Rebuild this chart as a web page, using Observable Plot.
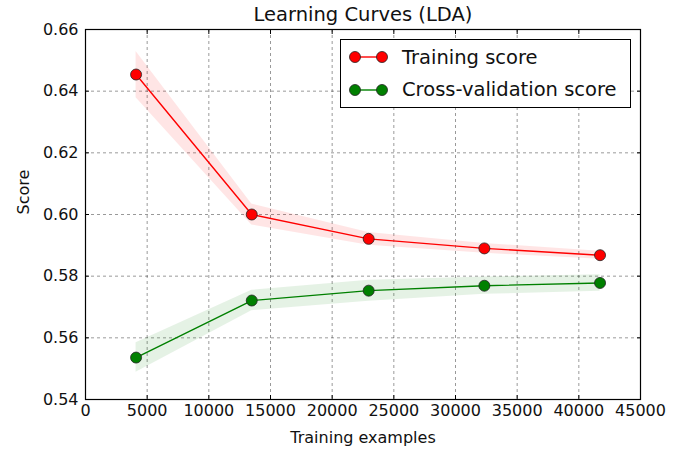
<!DOCTYPE html>
<html><head><meta charset="utf-8">
<script src="https://cdn.jsdelivr.net/npm/d3@7"></script>
<script src="https://cdn.jsdelivr.net/npm/@observablehq/plot@0.6"></script>
<style>
body{margin:0;background:#fff;}
#wrap{position:relative;width:692px;height:452px;font-family:"DejaVu Sans",sans-serif;}
#legend{position:absolute;left:340px;top:39px;width:289px;height:67px;border:1px solid #000;background:#fff;}
.entry{position:absolute;left:0;height:30px;display:flex;align-items:center;font-size:19.5px;color:#111;}
.entry svg{margin-left:8px;margin-right:13px;}
</style></head>
<body><div id="wrap"></div>
<script>
const trainSizes = [4100, 13480, 22960, 32340, 41720];
const trainMean = [0.6454, 0.6000, 0.5921, 0.5890, 0.5868];
const trainStd  = [0.0075, 0.0034, 0.0021, 0.0016, 0.0013];
const cvMean = [0.5536, 0.5721, 0.5753, 0.5769, 0.5778];
const cvStd  = [0.0048, 0.0033, 0.0034, 0.0028, 0.0027];
const xTicks = [0, 5000, 10000, 15000, 20000, 25000, 30000, 35000, 40000, 45000];
const yTicks = [0.54, 0.56, 0.58, 0.60, 0.62, 0.64, 0.66];
const seriesNames = ["Training score", "Cross-validation score"];
const seriesColors = ["#ff0000", "#008000"];

const train = trainSizes.map((x, i) => ({x, y: trainMean[i], lo: trainMean[i] - trainStd[i], hi: trainMean[i] + trainStd[i]}));
const cv = trainSizes.map((x, i) => ({x, y: cvMean[i], lo: cvMean[i] - cvStd[i], hi: cvMean[i] + cvStd[i]}));

const grid = {stroke: "#000", strokeOpacity: 0.4, strokeDasharray: "3,3", strokeWidth: 1};
const chart = Plot.plot({
  width: 692, height: 452,
  marginLeft: 85, marginRight: 52, marginTop: 29, marginBottom: 53,
  style: {background: "white", color: "#111", fontFamily: "DejaVu Sans", fontSize: "16px"},
  x: {domain: [0, 45000]},
  y: {domain: [0.54, 0.66]},
  marks: [
    Plot.gridX(xTicks, grid),
    Plot.gridY(yTicks, grid),
    Plot.areaY(train, {x: "x", y1: "lo", y2: "hi", fill: seriesColors[0], fillOpacity: 0.1}),
    Plot.areaY(cv, {x: "x", y1: "lo", y2: "hi", fill: seriesColors[1], fillOpacity: 0.1}),
    Plot.line(train, {x: "x", y: "y", stroke: seriesColors[0], strokeWidth: 1.4}),
    Plot.line(cv, {x: "x", y: "y", stroke: seriesColors[1], strokeWidth: 1.4}),
    Plot.dot(train, {x: "x", y: "y", r: 5.5, fill: seriesColors[0], stroke: "#222", strokeWidth: 0.8}),
    Plot.dot(cv, {x: "x", y: "y", r: 5.5, fill: seriesColors[1], stroke: "#222", strokeWidth: 0.8}),
    Plot.axisX({anchor: "bottom", ticks: xTicks, tickSize: -4, tickPadding: 9, tickFormat: d3.format("d"), label: null, stroke: "black", fill: "#111", fontSize: 16}),
    Plot.axisX({anchor: "top", ticks: xTicks, tickSize: -4, tickFormat: () => "", label: null, stroke: "black"}),
    Plot.axisY({anchor: "left", ticks: yTicks, tickSize: -4, tickPadding: 11, tickFormat: d3.format(".2f"), label: null, stroke: "black", fill: "#111", fontSize: 16}),
    Plot.axisY({anchor: "right", ticks: yTicks, tickSize: -4, tickFormat: () => "", label: null, stroke: "black"}),
    Plot.frame({stroke: "black", strokeWidth: 1.2}),
    Plot.text(["Learning Curves (LDA)"], {frameAnchor: "top", dy: -15, fontSize: 19.5, lineAnchor: "middle", fill: "#111"}),
    Plot.text(["Training examples"], {frameAnchor: "bottom", dy: 38, fontSize: 16, lineAnchor: "middle", fill: "#111"}),
    Plot.text(["Score"], {frameAnchor: "left", dx: -62, rotate: -90, fontSize: 16, lineAnchor: "middle", fill: "#111"})
  ]
});
const wrap = document.getElementById("wrap");
wrap.appendChild(chart);
const legend = document.createElement("div");
legend.id = "legend";
seriesNames.forEach((name, i) => {
  const e = document.createElement("div");
  e.className = "entry";
  e.style.top = (2 + i * 32.5) + "px";
  e.innerHTML = `<svg width="40" height="14"><line x1="6" x2="33" y1="7" y2="7" stroke="${seriesColors[i]}" stroke-width="1.4"/><circle cx="6" cy="7" r="5.5" fill="${seriesColors[i]}" stroke="#222" stroke-width="0.8"/><circle cx="33" cy="7" r="5.5" fill="${seriesColors[i]}" stroke="#222" stroke-width="0.8"/></svg><span>${name}</span>`;
  legend.appendChild(e);
});
wrap.appendChild(legend);
</script></body></html>
